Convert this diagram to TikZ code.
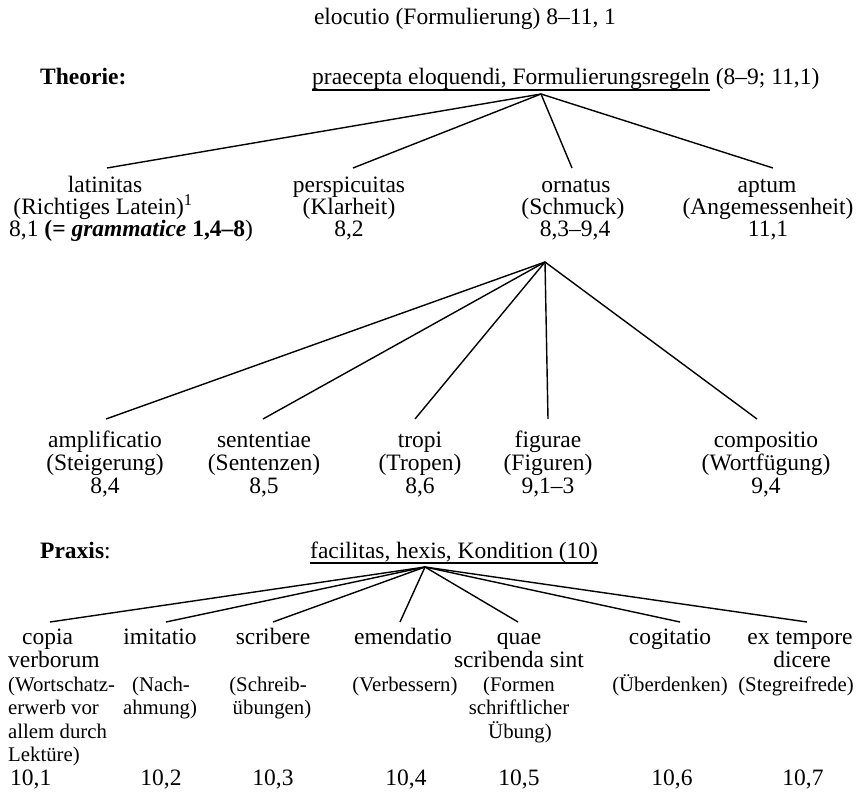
\documentclass[tikz,border=0pt]{standalone}
\usepackage{fontspec}
\setmainfont{Liberation Serif}
\newcommand{\mainsz}{\fontsize{23.5}{25}\selectfont}
\newcommand{\smallsz}{\fontsize{20.8}{23}\selectfont}
\tikzset{
  txt/.style={inner sep=0pt, font=\mainsz},
  sm/.style={inner sep=0pt, font=\smallsz},
  branch/.style={line width=1.4pt},
  uline/.style={line width=1.1pt}
}
\begin{document}
\begin{tikzpicture}[x=1pt,y=-1pt]
\useasboundingbox (0,0) rectangle (859,794);
% title
\node[txt, anchor=base] (title) at (465,25) {elocutio (Formulierung) 8–11, 1};
% Theorie
\node[txt, anchor=base west, font=\mainsz\bfseries] (theorie) at (40,85) {Theorie:};
\node[txt, anchor=base west] (prA) at (312,85) {praecepta eloquendi, Formulierungsregeln};
\node[txt, anchor=base west] (prB) at (prA.base east) {\hspace*{0.25em}(8–9; 11,1)};
\draw[uline] ([yshift=-5pt]prA.base west) -- ([yshift=-5pt]prA.base east);
\coordinate (a1) at (541,94);
% row 1
\node[txt, anchor=base] (lat) at (105,193) {latinitas};
\node[txt, anchor=base] (lat2) at (103,215) {(Richtiges Latein)\textsuperscript{1}};
\node[txt, anchor=base west] (lat3) at (9,237) {8,1 \textbf{(=} \textbf{\textit{grammatice}} \textbf{1,4–8})};
\node[txt, anchor=base] (per) at (349,193) {perspicuitas};
\node[txt, anchor=base] (per2) at (349,215) {(Klarheit)};
\node[txt, anchor=base] (per3) at (349,237) {8,2};
\node[txt, anchor=base] (orn) at (576,193) {ornatus};
\node[txt, anchor=base] (orn2) at (573,215) {(Schmuck)};
\node[txt, anchor=base] (orn3) at (575,237) {8,3–9,4};
\node[txt, anchor=base] (apt) at (767,193) {aptum};
\node[txt, anchor=base] (apt2) at (768,215) {(Angemessenheit)};
\node[txt, anchor=base] (apt3) at (768,237) {11,1};
\coordinate (e-lat) at (107,168);
\coordinate (e-per) at (353,168);
\coordinate (e-orn) at (572,168);
\coordinate (e-apt) at (773,168);
\foreach \e in {e-lat,e-per,e-orn,e-apt} \draw[branch] (a1) -- (\e);
% row 2
\coordinate (a2) at (545,262);
\node[txt, anchor=base] (amp) at (105,447) {amplificatio};
\node[txt, anchor=base] (amp2) at (105,470) {(Steigerung)};
\node[txt, anchor=base] (amp3) at (105,493) {8,4};
\node[txt, anchor=base] (sen) at (264,447) {sententiae};
\node[txt, anchor=base] (sen2) at (264,470) {(Sentenzen)};
\node[txt, anchor=base] (sen3) at (264,493) {8,5};
\node[txt, anchor=base] (tro) at (420,447) {tropi};
\node[txt, anchor=base] (tro2) at (420,470) {(Tropen)};
\node[txt, anchor=base] (tro3) at (420,493) {8,6};
\node[txt, anchor=base] (fig) at (548,447) {figurae};
\node[txt, anchor=base] (fig2) at (548,470) {(Figuren)};
\node[txt, anchor=base] (fig3) at (548,493) {9,1–3};
\node[txt, anchor=base] (com) at (766,447) {compositio};
\node[txt, anchor=base] (com2) at (766,470) {(Wortfügung)};
\node[txt, anchor=base] (com3) at (766,493) {9,4};
\coordinate (e-amp) at (106,419);
\coordinate (e-sen) at (263,419);
\coordinate (e-tro) at (415,419);
\coordinate (e-fig) at (548,419);
\coordinate (e-com) at (757,419);
\foreach \e in {e-amp,e-sen,e-tro,e-fig,e-com} \draw[branch] (a2) -- (\e);
% Praxis
\node[txt, anchor=base west] (praxis) at (40,558) {\textbf{Praxis}:};
\node[txt, anchor=base west] (fac) at (310,558) {facilitas, hexis, Kondition (10)};
\draw[uline] ([yshift=-5pt]fac.base west) -- ([yshift=-5pt]fac.base east);
\coordinate (a3) at (425,567);
% row 3
\node[txt, anchor=base west] (cop) at (22,644) {copia};
\node[txt, anchor=base west] (cop2) at (8,667.5) {verborum};
\node[sm, anchor=base west] (cop3) at (8,691) {(Wortschatz-};
\node[sm, anchor=base west] (cop4) at (8,714.5) {erwerb vor};
\node[sm, anchor=base west] (cop5) at (8,738) {allem durch};
\node[sm, anchor=base west] (cop6) at (8,761.5) {Lektüre)};
\node[txt, anchor=base west] (cop7) at (10,785) {10,1};
\node[txt, anchor=base] (imi) at (160,644) {imitatio};
\node[sm, anchor=base] (imi2) at (161,691) {(Nach-};
\node[sm, anchor=base] (imi3) at (160,714.5) {ahmung)};
\node[txt, anchor=base] (imi4) at (161,785) {10,2};
\node[txt, anchor=base] (scr) at (273,644) {scribere};
\node[sm, anchor=base] (scr2) at (268,691) {(Schreib-};
\node[sm, anchor=base] (scr3) at (272,714.5) {übungen)};
\node[txt, anchor=base] (scr4) at (273,785) {10,3};
\node[txt, anchor=base] (eme) at (403,644) {emendatio};
\node[sm, anchor=base] (eme2) at (405,691) {(Verbessern)};
\node[txt, anchor=base] (eme3) at (406,785) {10,4};
\node[txt, anchor=base] (qua) at (519,644) {quae};
\node[txt, anchor=base] (qua2) at (519,667.5) {scribenda sint};
\node[sm, anchor=base] (qua3) at (519,691) {(Formen};
\node[sm, anchor=base] (qua4) at (519,714.5) {schriftlicher};
\node[sm, anchor=base] (qua5) at (520,738) {Übung)};
\node[txt, anchor=base] (qua6) at (519,785) {10,5};
\node[txt, anchor=base] (cog) at (670,644) {cogitatio};
\node[sm, anchor=base] (cog2) at (670,691) {(Überdenken)};
\node[txt, anchor=base] (cog3) at (672,785) {10,6};
\node[txt, anchor=base] (ext) at (800,644) {ex tempore};
\node[txt, anchor=base] (ext2) at (802,667.5) {dicere};
\node[sm, anchor=base] (ext3) at (796,691) {(Stegreifrede)};
\node[txt, anchor=base] (ext4) at (803,785) {10,7};
\coordinate (e-cop) at (50,622);
\coordinate (e-imi) at (166,622);
\coordinate (e-scr) at (273,622);
\coordinate (e-eme) at (400,622);
\coordinate (e-qua) at (518,622);
\coordinate (e-cog) at (680,622);
\coordinate (e-ext) at (807,622);
\foreach \e in {e-cop,e-imi,e-scr,e-eme,e-qua,e-cog,e-ext} \draw[branch] (a3) -- (\e);
\end{tikzpicture}
\end{document}
